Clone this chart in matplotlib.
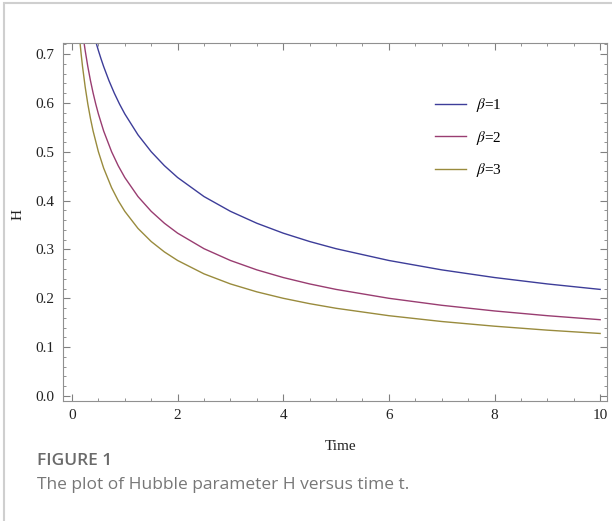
import matplotlib
matplotlib.use("Agg")
import matplotlib.pyplot as plt
from matplotlib.patches import Rectangle
from matplotlib.ticker import MultipleLocator

# ---- data ----
t_b1 = [0.45, 0.5, 0.55, 0.6, 0.7, 0.8, 0.9, 1.0, 1.25, 1.5, 1.75, 2, 2.5, 3,
        3.5, 4, 4.5, 5, 6, 7, 8, 9, 10]
H_b1 = [0.7255, 0.7071, 0.6901, 0.6742, 0.6455, 0.6202, 0.5976, 0.5774,
        0.5345, 0.5000, 0.4714, 0.4472, 0.4082, 0.3780, 0.3536, 0.3333,
        0.3162, 0.3015, 0.2774, 0.2582, 0.2425, 0.2294, 0.2182]
t_b2 = [0.22, 0.25, 0.3, 0.35, 0.4, 0.45, 0.5, 0.6, 0.75, 0.875, 1, 1.25, 1.5,
        1.75, 2, 2.5, 3, 3.5, 4, 4.5, 5, 6, 7, 8, 9, 10]
H_b2 = [0.7293, 0.7071, 0.6742, 0.6455, 0.6202, 0.5976, 0.5774, 0.5423,
        0.5000, 0.4714, 0.4472, 0.4082, 0.3780, 0.3536, 0.3333, 0.3015,
        0.2774, 0.2582, 0.2425, 0.2294, 0.2182, 0.2000, 0.1857, 0.1741,
        0.1644, 0.1562]
t_b3 = [0.15, 0.175, 0.2, 0.25, 0.3, 0.35, 0.4, 0.5, 0.6, 0.75, 0.875, 1, 1.25,
        1.5, 1.75, 2, 2.5, 3, 3.5, 4, 4.5, 5, 6, 7, 8, 9, 10]
H_b3 = [0.7255, 0.6984, 0.6742, 0.6325, 0.5976, 0.5680, 0.5423, 0.5000,
        0.4663, 0.4264, 0.4000, 0.3780, 0.3430, 0.3162, 0.2949, 0.2774,
        0.2500, 0.2294, 0.2132, 0.2000, 0.1890, 0.1796, 0.1644, 0.1525,
        0.1429, 0.1348, 0.1280]
labels = [r'$\beta$=1', r'$\beta$=2', r'$\beta$=3']
colors = [(0.24, 0.24, 0.6), (0.6, 0.24, 0.442), (0.6, 0.547, 0.24)]
x_ticks = [0, 2, 4, 6, 8, 10]
y_ticks = [0.0, 0.1, 0.2, 0.3, 0.4, 0.5, 0.6, 0.7]

plt.rcParams['font.family'] = ['Liberation Serif', 'DejaVu Serif']
plt.rcParams['mathtext.fontset'] = 'stix'

W, Hh = 612, 521
fig = plt.figure(figsize=(W / 100, Hh / 100), dpi=100)

# outer light border (left and top visible)
fig.patches.append(Rectangle((4 / W, -0.1), 1.2, 1 - 3 / Hh + 0.1,
                             transform=fig.transFigure, fill=False,
                             edgecolor='#cfcfcf', linewidth=1.5))

ax = fig.add_axes([63 / W, 1 - 401 / Hh, (607 - 63) / W, (401 - 43) / Hh])

for t, h, lab, c in zip([t_b1, t_b2, t_b3], [H_b1, H_b2, H_b3], labels, colors):
    ax.plot(t, h, color=c, lw=1.0, label=lab)

ax.set_xlim(-0.17, 10.13)
ax.set_ylim(-0.0102, 0.7225)
ax.set_xticks(x_ticks)
ax.set_yticks(y_ticks)
ax.set_yticklabels([f'{v:.1f}' for v in y_ticks])
ax.xaxis.set_minor_locator(MultipleLocator(0.5))
ax.yaxis.set_minor_locator(MultipleLocator(0.02))
ax.tick_params(which='both', direction='in', top=True, right=True,
               color='#808080', labelsize=11, labelcolor='#222222')
ax.tick_params(which='major', length=5, width=0.8, pad=6)
ax.tick_params(which='minor', length=2.5, width=0.6)
for s in ax.spines.values():
    s.set_color('#909090')
    s.set_linewidth(0.8)

fig.text(341 / W, 1 - 447 / Hh, 'Time', ha='center', va='center',
         fontsize=11, color='#222222')
fig.text(18 / W, 1 - 215 / Hh, 'H', ha='center', va='center', rotation=90,
         fontsize=11, color='#222222')

leg = ax.legend(loc='upper left', bbox_to_anchor=(435 / W, 1 - 96 / Hh),
                bbox_transform=fig.transFigure, frameon=False,
                borderpad=0, borderaxespad=0, handlelength=2.0,
                handletextpad=0.7, labelspacing=0.95, fontsize=11)

fig.text(37 / W, 1 - 461 / Hh, 'FIGURE 1', ha='left', va='center',
         fontsize=12.5, fontweight='semibold', color='#6a6a6a',
         family=['Open Sans', 'DejaVu Sans'])
fig.text(37 / W, 1 - 485 / Hh, 'The plot of Hubble parameter H versus time t.',
         ha='left', va='center', fontsize=12.5, color='#777777',
         family=['Open Sans', 'DejaVu Sans'])

fig.savefig('out.png', dpi=100)
